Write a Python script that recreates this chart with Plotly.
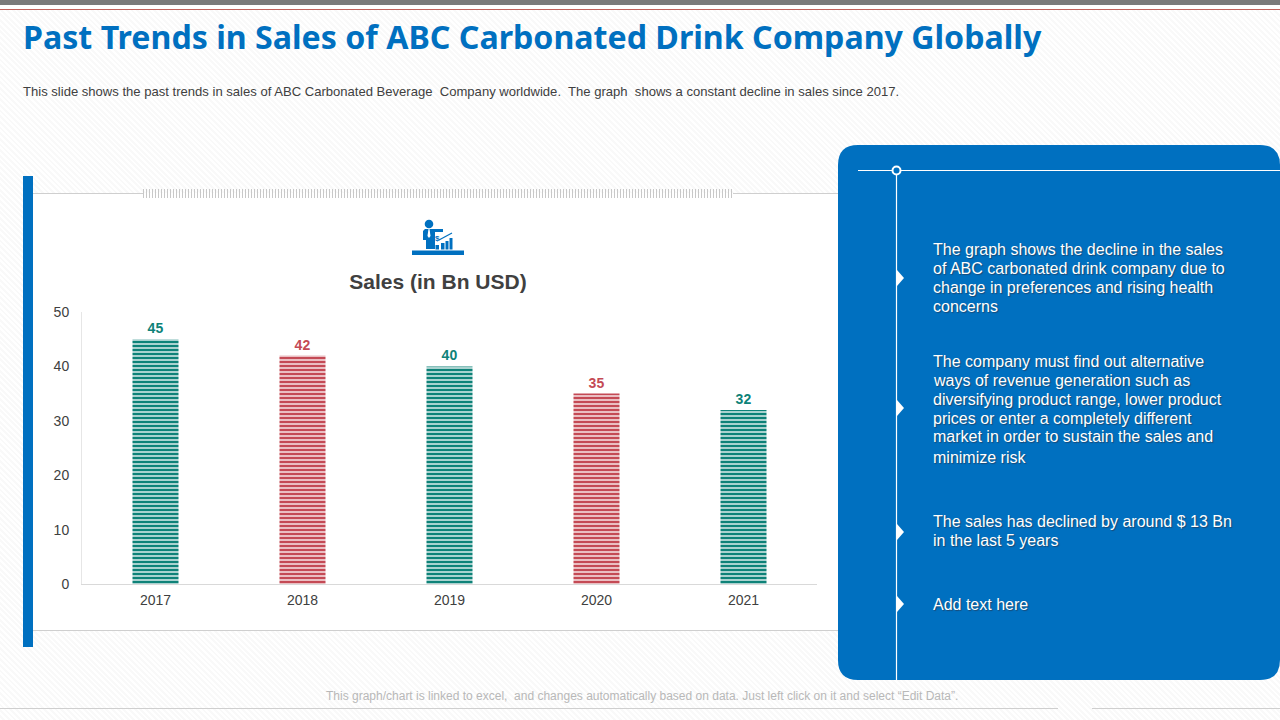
import plotly.graph_objects as go

years = ['2017', '2018', '2019', '2020', '2021']
sales = [45, 42, 40, 35, 32]
bar_colors = ['#0e8278', '#c44a55', '#0e8278', '#c44a55', '#0e8278']
y_ticks = [0, 10, 20, 30, 40, 50]

title = 'Past Trends in Sales of ABC Carbonated Drink Company Globally'
subtitle = ('This slide shows the past trends in sales of ABC Carbonated Beverage  Company worldwide.  '
            'The graph  shows a constant decline in sales since 2017.')
footer = 'This graph/chart is linked to excel,  and changes automatically based on data. Just left click on it and select “Edit Data”.'
panel_lines = [
    ('The graph shows the decline in the sales', 249),
    ('of ABC carbonated drink company due to', 268),
    ('change in preferences and rising health', 287),
    ('concerns', 306),
    ('The company must find out alternative', 361),
    ('ways of revenue generation such as', 380),
    ('diversifying product range, lower product', 399),
    ('prices or enter a completely different', 418),
    ('market in order to sustain the sales and', 437),
    ('minimize risk', 457),
    ('The sales has declined by around $ 13 Bn', 521),
    ('in the last 5 years', 540),
    ('Add text here', 604),
]
marker_rows = [278, 408, 532, 604]

W, H = 1280, 720
BLUE = '#0070c0'


def px(x):
    return x / W


def py(y):
    return 1 - y / H


def rect(x0, y0, x1, y1, color):
    return dict(type='rect', xref='paper', yref='paper', x0=px(x0), x1=px(x1), y0=py(y0), y1=py(y1),
                fillcolor=color, line_width=0, layer='below')


def line(x0, y0, x1, y1, color='#cfcfcf', width=1, dash='solid', layer='below'):
    return dict(type='line', xref='paper', yref='paper', x0=px(x0), x1=px(x1), y0=py(y0), y1=py(y1),
                line=dict(color=color, width=width, dash=dash), layer=layer)


def path(points, color):
    d = 'M ' + ' L '.join(f'{px(x):.5f},{py(y):.5f}' for x, y in points) + ' Z'
    return dict(type='path', xref='paper', yref='paper', path=d, fillcolor=color, line_width=0, layer='above')


def round_panel(x0, y0, x1, y1, r, color):
    p = lambda x, y: f'{px(x):.5f},{py(y):.5f}'
    d = (f'M {p(x0 + r, y0)} L {p(x1 - r, y0)} Q {p(x1, y0)} {p(x1, y0 + r)} '
         f'L {p(x1, y1 - r)} Q {p(x1, y1)} {p(x1 - r, y1)} '
         f'L {p(x0 + r, y1)} Q {p(x0, y1)} {p(x0, y1 - r)} '
         f'L {p(x0, y0 + r)} Q {p(x0, y0)} {p(x0 + r, y0)} Z')
    return dict(type='path', xref='paper', yref='paper', path=d, fillcolor=color, line_width=0, layer='below')


def circle(cx, cy, r, fill, edge=None, width=0):
    return dict(type='circle', xref='paper', yref='paper', x0=px(cx - r), x1=px(cx + r), y0=py(cy - r), y1=py(cy + r),
                fillcolor=fill, line=dict(color=edge or fill, width=width), layer='above')


shapes = [
    rect(0, 5, 1280, 9, '#ffffff'),
    rect(0, 0, 1280, 5, '#7a7a7a'),
    line(0, 9.5, 1280, 9.5, '#c0605a'),
    rect(33, 193, 838, 630, '#ffffff'),
    rect(23, 176, 33, 647, BLUE),
    line(33, 193.5, 143, 193.5),
    line(143, 193.5, 733, 193.5, '#c8c8c8', 9, '1px,2px'),
    line(733, 193.5, 838, 193.5),
    line(33, 630.5, 838, 630.5),
    line(0, 708.5, 1058, 708.5),
    line(1092, 708.5, 1280, 708.5),
    round_panel(838, 145, 1280, 680, 20, BLUE),
    line(858, 170.5, 1280, 170.5, '#ffffff', 1.2, layer='above'),
    line(896.5, 170, 896.5, 680, '#ffffff', 1.2, layer='above'),
    circle(896.5, 170.5, 4, BLUE, '#ffffff', 2),
    # presenter icon
    rect(412, 250.5, 464, 255, BLUE),
    circle(429, 224, 4.3, BLUE),
    path([(423, 231), (425, 229), (443, 229), (443, 232), (435, 232), (435, 249), (426, 249), (426, 240), (423, 240)], BLUE),
    path([(428.5, 229), (429.5, 229), (430.5, 236), (429, 238), (427.5, 236)], '#ffffff'),
    rect(435.5, 245, 439, 249.5, BLUE),
    rect(441, 243, 444.5, 249.5, BLUE),
    rect(445.5, 241, 448.5, 249.5, BLUE),
    rect(449.5, 238, 452.5, 249.5, BLUE),
    line(439, 240, 452, 233, BLUE, 1.2, layer='above'),
]
for row in marker_rows:
    shapes.append(path([(897, row - 8), (904, row), (897, row + 8)], '#ffffff'))

annotations = [
    dict(text=title, x=px(23), y=py(36), font=dict(family='Noto Sans', size=32.15, color=BLUE, weight='bold')),
    dict(text=subtitle, x=px(23), y=py(91), font=dict(family='Liberation Sans', size=13.07, color='#404040')),
    dict(text=footer, x=px(326), y=py(696), font=dict(family='Liberation Sans', size=12, color='#b8b8b8')),
    dict(text='$', x=px(437), y=py(239), xanchor='center', font=dict(family='Liberation Sans', size=8, color=BLUE, weight='bold')),
]
for text, y in panel_lines:
    annotations.append(dict(text=text, x=px(933), y=py(y),
                            font=dict(family='Liberation Sans', size=16, color='#ffffff', shadow='1px 1px 1px #1a4a75')))
for a in annotations:
    a.update(xref='paper', yref='paper', showarrow=False, yanchor='middle', borderpad=0, borderwidth=0)
    a.setdefault('xanchor', 'left')

fig = go.Figure(go.Bar(
    x=years, y=sales, text=sales, textposition='outside', cliponaxis=False,
    textfont=dict(family='Liberation Sans', size=14, color=bar_colors, weight='bold'),
    marker=dict(color='#ffffff', line=dict(width=4, color='rgba(0,0,0,0)'),
                pattern=dict(shape='-', fgcolor=bar_colors, bgcolor='#ffffff', fgopacity=1, size=4, solidity=0.68)),
    hoverinfo='skip',
))

fig.update_layout(
    width=W, height=H, margin=dict(l=0, r=0, t=0, b=0, autoexpand=False), showlegend=False,
    paper_bgcolor='rgba(0,0,0,0)', plot_bgcolor='rgba(0,0,0,0)', bargap=0.687,
    title=dict(text='Sales (in Bn USD)', x=px(438), y=py(282), xanchor='center', yanchor='middle',
               font=dict(family='Liberation Sans', size=21, color='#404040', weight='bold')),
    shapes=shapes, annotations=annotations,
    font=dict(family='Liberation Sans', size=14, color='#404040'),
)
fig.update_xaxes(domain=[px(82), px(817)], showline=True, linecolor='#d9d9d9', linewidth=1,
                 ticks='outside', ticklen=3, tickcolor='rgba(0,0,0,0)', tickfont_size=14, fixedrange=True)
fig.update_yaxes(domain=[py(584), py(312)], range=[0, 50], tickvals=y_ticks, showgrid=False, zeroline=False,
                 showline=True, linecolor='#e6e6e6', linewidth=1, ticks='outside', ticklen=9,
                 tickcolor='rgba(0,0,0,0)', tickfont_size=14, fixedrange=True)

# plotly has no textured page background, so set it on the body
fig.write_html('out.html', config=dict(displayModeBar=False),
               post_script="document.body.style.margin='0';document.body.style.overflow='hidden';"
                           "document.body.style.background='repeating-linear-gradient(45deg,#ffffff,#ffffff 2px,#f9f9f9 2px,#f9f9f9 4px)';")
